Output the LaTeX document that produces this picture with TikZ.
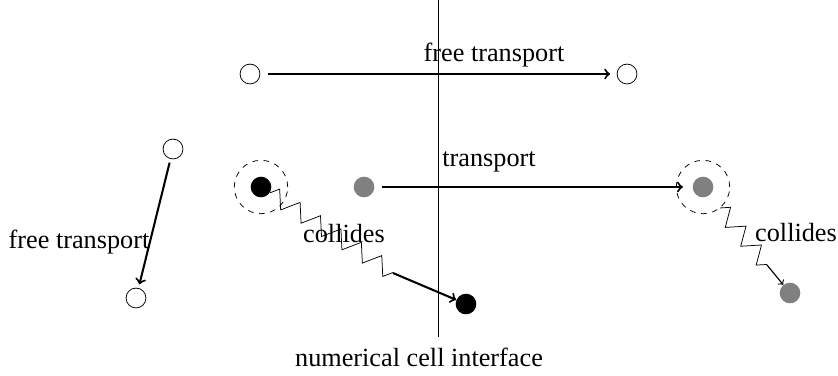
\documentclass[tikz,border=0pt]{standalone}
\usepackage{fontspec}
\setmainfont{Liberation Serif}
\usetikzlibrary{decorations.pathmorphing}
\begin{document}
\begin{tikzpicture}[x=0.5334pt,y=-0.5334pt,
  every node/.style={font=\fontsize{14}{16}\selectfont},
  opendot/.style={circle,draw,thin,inner sep=0pt,minimum size=10.6pt},
  blackdot/.style={circle,fill=black,inner sep=0pt,minimum size=11pt},
  graydot/.style={circle,fill=gray,inner sep=0pt,minimum size=11pt},
  ring/.style={circle,draw,dashed,thin,inner sep=0pt,minimum size=28.5pt},
  move/.style={->,line width=1.1pt},
  zz/.style={decorate,decoration={zigzag,segment length=13pt,amplitude=4.5pt},thin},
  lbl/.style={inner sep=0pt}]
\useasboundingbox (0,0) rectangle (838,375);
% interface
\coordinate (itop) at (438,0);
\coordinate (ibot) at (438,337);
\draw[thin] (itop) -- (ibot);
\node[lbl] (ilabel) at (419,357) {numerical cell interface};
% top free transport
\node[opendot] (t1) at (250,74) {};
\node[opendot] (t2) at (627,74) {};
\draw[move,shorten <=4pt,shorten >=3.5pt] (t1) -- (t2);
\node[lbl] (tl) at (494,55) {free transport};
% left free transport
\node[opendot] (l1) at (173,149) {};
\node[opendot] (l2) at (136,298) {};
\draw[move,shorten <=2pt,shorten >=2pt] (l1) -- (l2);
\node[lbl] (ll) at (79,242) {free transport};
% black particle collides
\node[blackdot] (b1) at (261,187) {};
\node[ring] (r1) at (261,187) {};
\node[blackdot] (b2) at (466,304) {};
\coordinate (bend1) at (393,273);
\draw[zz] (b1) -- (bend1);
\draw[move] (bend1) -- (b2);
\node[lbl] (c1) at (344,234) {collides};
% gray particle transport
\node[graydot] (g1) at (364,187) {};
\node[graydot] (g2) at (703,187) {};
\node[ring] (r2) at (703,187) {};
\draw[move,shorten <=4pt,shorten >=5pt] (g1) -- (g2);
\node[lbl] (tr) at (489,162) {transport};
% gray collides
\node[graydot] (g3) at (790,293) {};
\coordinate (bend2) at (767,265);
\draw[zz] (r2) -- (bend2);
\draw[->,semithick] (bend2) -- (g3);
\node[lbl] (c2) at (796,233) {collides};
\end{tikzpicture}
\end{document}
